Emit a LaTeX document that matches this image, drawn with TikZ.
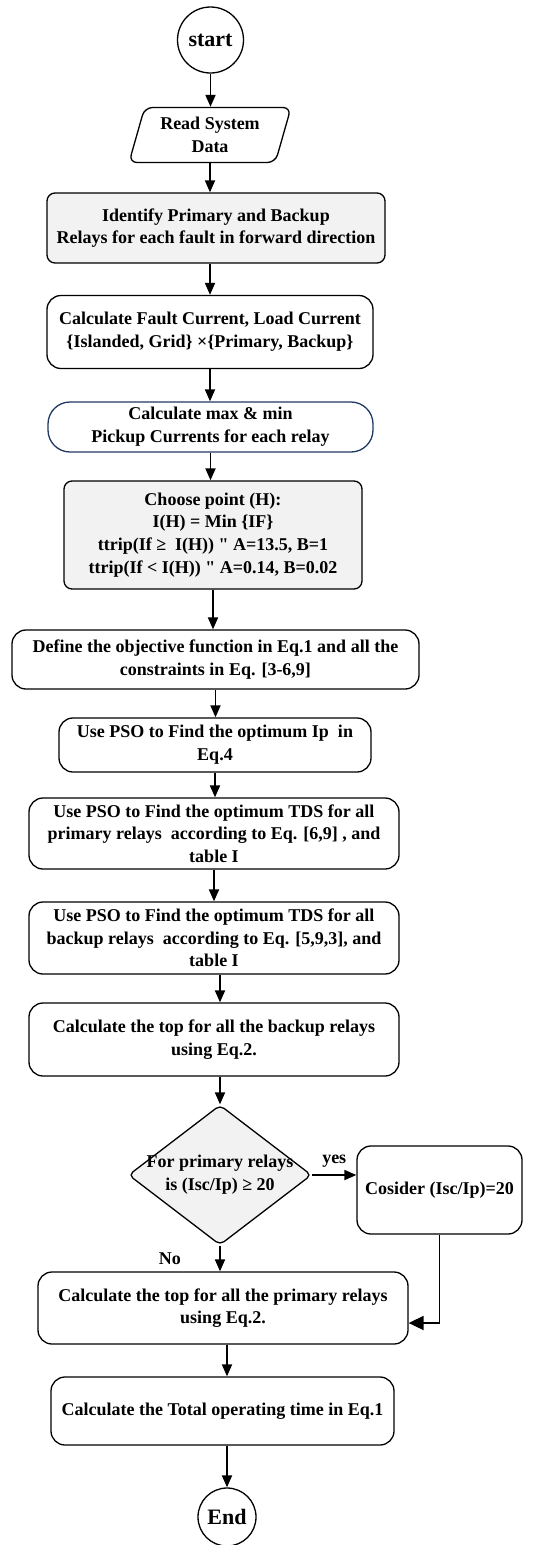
\documentclass[tikz,border=0pt]{standalone}
\usepackage{fontspec}
\setmainfont{Liberation Serif}
\newfontfamily\plainserif{Liberation Serif}
\usepackage{tikz}
\usetikzlibrary{arrows.meta, positioning, shapes.geometric}

\definecolor{boxgray}{RGB}{242,242,242}
\definecolor{navyline}{RGB}{31,56,100}

\begin{document}
\begin{tikzpicture}[x=1pt, y=-1pt, >={Triangle[length=12pt,width=10pt]},
        every node/.style={font=\plainserif\fontsize{18}{22.7}\selectfont\bfseries, align=center},
        terminal/.style={circle, draw, line width=1.3pt, minimum size=#1, inner sep=0pt, font=\plainserif\fontsize{22}{26}\selectfont\bfseries},
        io/.style={trapezium, trapezium left angle=72, trapezium right angle=108, trapezium stretches=true, draw, line width=1.3pt, rounded corners=8pt, minimum width=162pt, minimum height=55pt, inner sep=1pt},
        block/.style={rectangle, draw, line width=1.3pt, rounded corners=14pt, inner sep=1pt},
        shaded/.style={rectangle, draw, line width=1.3pt, fill=boxgray, rounded corners=8pt, inner sep=1pt},
        decision/.style={diamond, draw, line width=1.3pt, fill=boxgray, rounded corners=5pt, minimum width=183pt, minimum height=140pt, inner sep=0pt},
        arr/.style={->, line width=1.8pt}]

        \useasboundingbox (0,0) rectangle (544,1545);

        \node (start) [terminal=66pt] at (210.5,40) {start};
        \node (read) [io] at (210,135) {Read System\\Data};
        \node (ident) [shaded, minimum width=338pt, minimum height=70pt] at (216,228) {Identify Primary and Backup\\Relays for each fault in forward direction};
        \node (fault) [block, minimum width=326pt, minimum height=73pt] at (210,332) {Calculate Fault Current, Load Current\\\{Islanded, Grid\} ×\{Primary, Backup\}};
        \node (pickup) [block, draw=navyline, rounded corners=22pt, minimum width=325pt, minimum height=50pt] at (210.5,427) {Calculate max \& min\\Pickup Currents for each relay};
        \node (choose) [shaded, minimum width=298pt, minimum height=108pt] at (213,535) {Choose point (H):\\I(H) = Min \{IF\}\\ttrip(If ≥\ \ I(H)) " A=13.5, B=1\\ttrip(If < I(H)) " A=0.14, B=0.02};
        \node (objective) [block, minimum width=407pt, minimum height=59pt] at (215.5,659.5) {Define the objective function in Eq.1 and all the\\constraints in Eq. [3-6,9]};
        \node (psoip) [block, minimum width=312pt, minimum height=54pt] at (215,745) {Use PSO to Find the optimum Ip\ \ in\\Eq.4};
        \node (psoprim) [block, minimum width=370pt, minimum height=71pt] at (214,833.5) {Use PSO to Find the optimum TDS for all\\primary relays\ \ according to Eq. [6,9] , and\\table I};
        \node (psobak) [block, minimum width=370pt, minimum height=72pt] at (214,938) {Use PSO to Find the optimum TDS for all\\backup relays\ \ according to Eq. [5,9,3], and\\table I};
        \node (topbak) [block, minimum width=370pt, minimum height=73pt] at (214,1039.5) {Calculate the top for all the backup relays\\using Eq.2.};
        \node (check) [decision, label={center:{For primary relays\\is (Isc/Ip) ≥ 20}}] at (220,1175) {};
        \node (limit) [block, minimum width=165pt, minimum height=88pt] at (439.5,1190) {Cosider (Isc/Ip)=20};
        \node (toppri) [block, minimum width=370pt, minimum height=72pt] at (223,1308) {Calculate the top for all the primary relays\\using Eq.2.};
        \node (total) [block, minimum width=343pt, minimum height=68pt] at (222.5,1411) {Calculate the Total operating time in Eq.1};
        \node (end) [terminal=58pt] at (227,1517) {End};

        \draw[arr] (start) -- (start |- read.north);
        \draw[arr] (read) -- (read |- ident.north);
        \draw[arr] (fault |- ident.south) -- (fault);
        \draw[arr] (fault) -- (fault |- pickup.north);
        \draw[arr] (pickup) -- (pickup |- choose.north);
        \draw[arr] (choose) -- (choose |- objective.north);
        \draw[arr] (objective) -- (objective |- psoip.north);
        \draw[arr] (psoip) -- (psoip |- psoprim.north);
        \draw[arr] (psoprim) -- (psoprim |- psobak.north);
        \draw[arr] (check |- psobak.south) -- (check |- topbak.north);
        \draw[arr] (check |- topbak.south) -- (check);
        \draw[arr] (check) -- node[above=3pt] {yes} (check -| limit.west);
        \draw[arr] (check) -- node[left=35pt] {No} (check |- toppri.north);
        \draw[arr, -{Triangle[length=15pt,width=14pt]}] (limit) |- ([yshift=-15pt]toppri.east);
        \draw[arr] (end |- toppri.south) -- (end |- total.north);
        \draw[arr] (end |- total.south) -- (end);
    \end{tikzpicture}
\end{document}
